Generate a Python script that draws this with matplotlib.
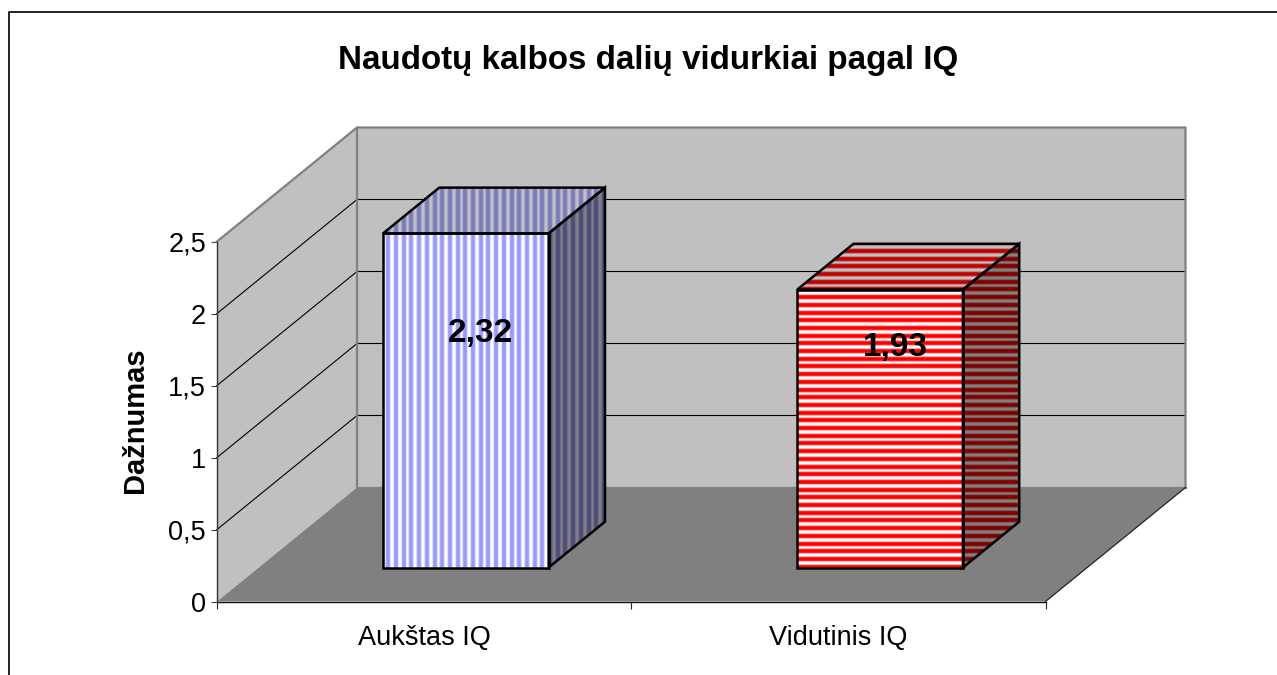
import matplotlib
matplotlib.use("Agg")
import matplotlib.pyplot as plt
import numpy as np
from matplotlib.patches import Polygon
from matplotlib.collections import LineCollection

plt.rcParams['font.family'] = ['Liberation Sans', 'DejaVu Sans']

categories = ["Aukštas IQ", "Vidutinis IQ"]
values = [2.32, 1.93]
value_labels = ["2,32", "1,93"]
label_heights = [1.86, 1.763]
ytick_values = [0, 0.5, 1, 1.5, 2, 2.5]
ytick_labels = ["0", "0,5", "1", "1,5", "2", "2,5"]
title_text = "Naudotų kalbos dalių vidurkiai pagal IQ"
ylabel_text = "Dažnumas"

W, H = 1277, 675
fig = plt.figure(figsize=(W / 100, H / 100), dpi=100, facecolor="white")
L, R, Y0, Y1 = 217, 1045.5, 601.5, 241.5
ax = fig.add_axes([L / W, 1 - Y0 / H, (R - L) / W, (Y0 - Y1) / H])
ax.set_xlim(0, 2)
ax.set_ylim(0, 2.5)
ax.patch.set_visible(False)

PX = (R - L) / 2          # pixels per category
PY = (Y0 - Y1) / 2.5      # pixels per value unit
DX, DY = 140 / PX, 114 / PY
PERIOD = 7.7              # stripe period in pixels


def proj(x, v, d):
    return (x + d * DX, v + d * DY)


def face(pts, fc, z, ec="none", lw=0):
    p = Polygon(pts, closed=True, facecolor=fc, edgecolor=ec, linewidth=lw,
                clip_on=False, zorder=z, joinstyle="miter")
    ax.add_patch(p)
    return p


def stripes(poly, vertical, color, z):
    pts = poly.get_xy()
    if vertical:
        step = PERIOD / PX
        lo, hi = pts[:, 0].min(), pts[:, 0].max()
        start = (388.3 - L) / PX
        pos = start + step * np.arange(np.floor((lo - start) / step) - 1,
                                       np.ceil((hi - start) / step) + 2)
        segs = [[(p, pts[:, 1].min()), (p, pts[:, 1].max())] for p in pos]
    else:
        step = PERIOD / PY
        lo, hi = pts[:, 1].min(), pts[:, 1].max()
        start = (Y0 - 389.5) / PY
        pos = start + step * np.arange(np.floor((lo - start) / step) - 1,
                                       np.ceil((hi - start) / step) + 2)
        segs = [[(pts[:, 0].min(), p), (pts[:, 0].max(), p)] for p in pos]
    # soft outer band, then the solid core, like the blurred source stripes
    for frac, alpha, dz in ((0.72, 0.4, 0.0), (0.46, 1.0, 0.1)):
        lc = LineCollection(segs, colors=color, linewidths=PERIOD * frac * 0.72,
                            alpha=alpha, zorder=z + dz, capstyle="butt")
        ax.add_collection(lc, autolim=False)
        lc.set_clip_box(None)
        lc.set_clip_path(poly)


WALL, FLOOR, EDGE = "#C0C0C0", "#808080", "#808080"
VMAX = 2.5
left_wall = [proj(0, 0, 0), proj(0, VMAX, 0), proj(0, VMAX, 1), proj(0, 0, 1)]
back_wall = [proj(0, 0, 1), proj(0, VMAX, 1), proj(2, VMAX, 1), proj(2, 0, 1)]
floor = [proj(0, 0, 0), proj(2, 0, 0), proj(2, 0, 1), proj(0, 0, 1)]
face(left_wall, WALL, 1)
face(back_wall, WALL, 1)

for v in ytick_values[1:-1]:
    xs, ys = zip(proj(0, v, 0), proj(0, v, 1), proj(2, v, 1))
    ax.plot(xs, ys, color="black", lw=0.8, zorder=2, clip_on=False)

face(floor, FLOOR, 3)

# wall outlines
xs, ys = zip(proj(0, VMAX, 0), proj(0, VMAX, 1), proj(2, VMAX, 1), proj(2, 0, 1))
ax.plot(xs, ys, color=EDGE, lw=1.6, zorder=4, clip_on=False)
xs, ys = zip(proj(0, VMAX, 1), proj(0, 0, 1), proj(2, 0, 1))
ax.plot(xs, ys, color=EDGE, lw=1.6, zorder=4, clip_on=False)
xs, ys = zip(proj(2, 0, 0), proj(2, 0, 1))
ax.plot(xs, ys, color="#222222", lw=0.9, zorder=4, clip_on=False)

BW = 0.4
D0, D1 = 0.298, 0.70
styles = [
    dict(vertical=True, front="#9999FF", top="#7A7ABF", side="#4C4C80"),
    dict(vertical=False, front="#FF0000", top="#BF0000", side="#800000"),
]
for i, (val, st) in enumerate(zip(values, styles)):
    x0, x1 = i + 0.5 - BW / 2, i + 0.5 + BW / 2
    side = [proj(x1, 0, D0), proj(x1, val, D0), proj(x1, val, D1), proj(x1, 0, D1)]
    top = [proj(x0, val, D0), proj(x1, val, D0), proj(x1, val, D1), proj(x0, val, D1)]
    front = [proj(x0, 0, D0), proj(x1, 0, D0), proj(x1, val, D0), proj(x0, val, D0)]
    for pts, bg, col in ((side, "#808080", st["side"]), (top, "#C0C0C0", st["top"]),
                         (front, "#FFFFFF", st["front"])):
        poly = face(pts, bg, 5)
        stripes(poly, st["vertical"], col, 6)
        face(pts, "none", 7, ec="black", lw=1.8)
    lx, ly = i + 0.5 + 0.137, label_heights[i]
    ax.text(lx, ly, value_labels[i], ha="center", va="center", fontsize=24,
            fontweight="bold", color="black", zorder=8)

for s in ("top", "right"):
    ax.spines[s].set_visible(False)
ax.spines["left"].set_color("#333333")
ax.spines["bottom"].set_color("#111111")
for s in ("left", "bottom"):
    ax.spines[s].set_linewidth(1.0)
    ax.spines[s].set_zorder(9)

ax.set_yticks(ytick_values)
ax.set_yticklabels(ytick_labels)
ax.set_xticks([0, 1, 2])
ax.set_xticklabels([])
ax.tick_params(axis="y", length=4.5, width=0.8, color="#444444", labelsize=19.5, pad=3.5)
ax.tick_params(axis="x", length=5, width=0.8, color="#222222")
for i, c in enumerate(categories):
    ax.annotate(c, xy=(i + 0.5, 0), xytext=(0, -26.5), textcoords="offset points",
                ha="center", va="center", fontsize=19.5, annotation_clip=False)

fig.text(135 / W, 1 - 420 / H, ylabel_text, rotation=90, ha="center", va="center",
         fontsize=21, fontweight="bold")
fig.text(648.5 / W, 1 - 61 / H, title_text, ha="center", va="center", fontsize=23.9,
         fontweight="bold")

# outer frame, cut off by the image edge on the right and bottom
fig.add_artist(plt.Line2D([8.5 / W, 8.5 / W, 1], [0, 1 - 12 / H, 1 - 12 / H],
                          color="#222222", lw=1.4))

fig.savefig("out.png", dpi=100)
